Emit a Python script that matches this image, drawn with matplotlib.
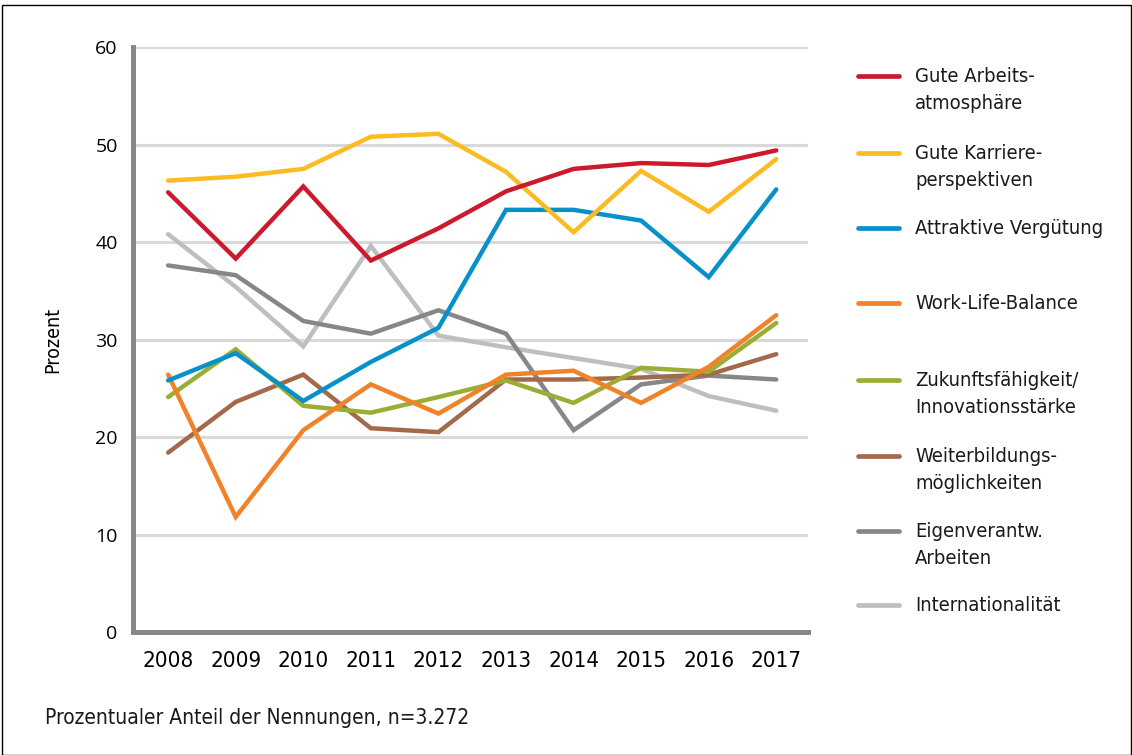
import matplotlib.pyplot as plt
from matplotlib.lines import Line2D
from matplotlib.patches import Rectangle

years = [2008, 2009, 2010, 2011, 2012, 2013, 2014, 2015, 2016, 2017]

arbeitsatmosphaere = [45.1, 38.3, 45.7, 38.1, 41.4, 45.2, 47.5, 48.1, 47.9, 49.4]
karriere = [46.3, 46.7, 47.5, 50.8, 51.1, 47.2, 41.0, 47.3, 43.1, 48.5]
verguetung = [25.8, 28.6, 23.7, 27.7, 31.2, 43.3, 43.3, 42.2, 36.4, 45.4]
work_life = [26.4, 11.8, 20.7, 25.4, 22.4, 26.4, 26.8, 23.5, 27.2, 32.5]
zukunft = [24.1, 29.0, 23.2, 22.5, 24.1, 25.8, 23.5, 27.1, 26.7, 31.7]
weiterbildung = [18.4, 23.6, 26.4, 20.9, 20.5, 25.9, 25.9, 26.1, 26.4, 28.5]
eigenverantw = [37.6, 36.6, 31.9, 30.6, 33.0, 30.6, 20.7, 25.4, 26.3, 25.9]
international = [40.8, 35.4, 29.3, 39.6, 30.4, 29.2, 28.1, 27.0, 24.2, 22.7]

labels = ["Gute Arbeits-\natmosphäre", "Gute Karriere-\nperspektiven", "Attraktive Vergütung",
          "Work-Life-Balance", "Zukunftsfähigkeit/\nInnovationsstärke", "Weiterbildungs-\nmöglichkeiten",
          "Eigenverantw.\nArbeiten", "Internationalität"]
series = [arbeitsatmosphaere, karriere, verguetung, work_life, zukunft, weiterbildung, eigenverantw, international]
colors = ["#cc1a2c", "#fdbb23", "#0891c9", "#f0822a", "#9bad35", "#a3694a", "#878787", "#bebebe"]

# zeichnungsreihenfolge wie im original (hellgrau hinten)
draw_order = [7, 6, 5, 4, 3, 2, 1, 0]

cond = dict(family="DejaVu Sans", stretch="condensed")

fig = plt.figure(figsize=(11.32, 7.55), dpi=100)
ax = fig.add_axes([0.1175, 0.1629, 0.5963, 0.7748])

for k in draw_order:
    ax.plot(years, series[k], color=colors[k], lw=3.2, solid_capstyle='round', solid_joinstyle='miter')

ax.set_xlim(2007.48, 2017.47)
ax.set_ylim(0, 60)
ax.set_xticks(years)
ax.set_yticks(range(0, 61, 10))
ax.grid(axis='y', color='#d9d9d9', lw=2.2)
ax.set_axisbelow(True)
for s in ['top', 'right']:
    ax.spines[s].set_visible(False)
for s in ['left', 'bottom']:
    ax.spines[s].set_color('#888888')
    ax.spines[s].set_linewidth(3.6)
ax.tick_params(axis='x', length=0, pad=14)
ax.tick_params(axis='y', length=0, pad=11)
for t in ax.get_xticklabels():
    t.set_fontfamily(cond["family"])
    t.set_fontstretch(cond["stretch"])
    t.set_fontsize(16)
for t in ax.get_yticklabels():
    t.set_fontfamily(["Open Sans", "DejaVu Sans"])
    t.set_fontsize(14)
ax.set_ylabel("Prozent", fontsize=14, labelpad=24, **cond)

# legende rechts, von hand gesetzt
W, H = 1132, 755
leg_y = [76, 153, 228, 303, 380, 456, 531, 605]
for k in range(len(labels)):
    y = 1 - leg_y[k] / H
    fig.add_artist(Line2D([858 / W, 899 / W], [y, y], color=colors[k], lw=3.4, solid_capstyle='round'))
    fig.text(915 / W, y + 9 / H, labels[k], fontsize=14.5, va='top', ha='left',
             linespacing=1.52, color='#1a1a1a', **cond)

fig.text(45 / W, 1 - 718 / H, "Prozentualer Anteil der Nennungen, n=3.272",
         fontsize=15, va='center', ha='left', color='#1a1a1a', **cond)

fig.add_artist(Rectangle((2 / W, 0), 1 - 3 / W, 1 - 5 / H, transform=fig.transFigure,
                         fill=False, ec='black', lw=1.0))

fig.savefig("out.png", dpi=100)
